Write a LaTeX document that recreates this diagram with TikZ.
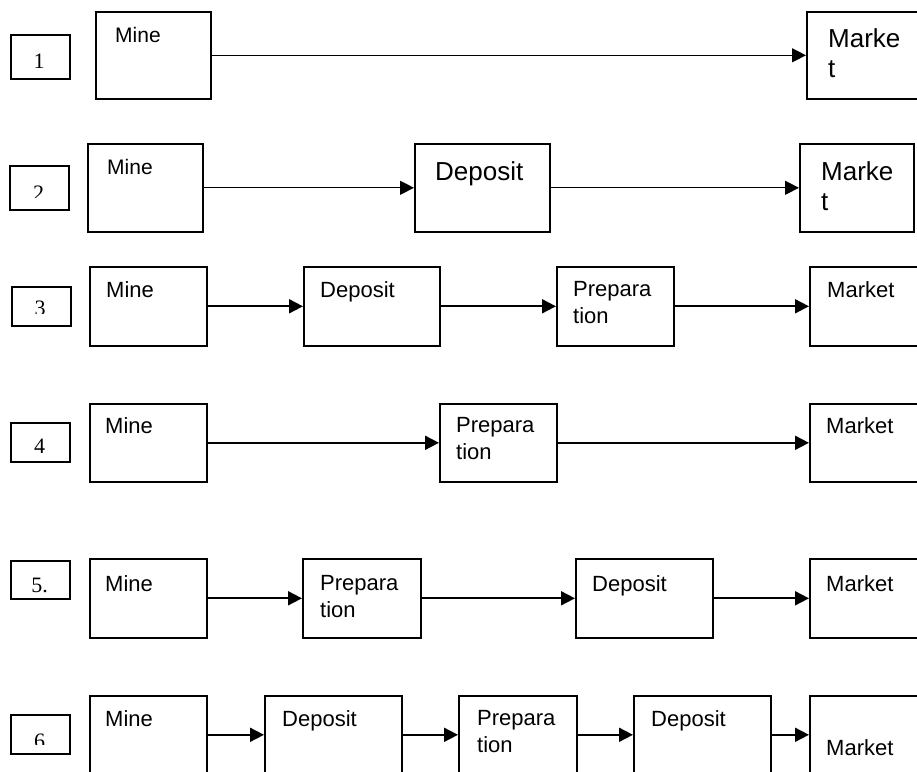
\documentclass[tikz,border=0pt]{standalone}
\usepackage{fontspec}
\setmainfont{Liberation Sans}
\newfontfamily\numfont{Liberation Serif}
\usetikzlibrary{arrows.meta}
\tikzset{
	box/.style={draw, line width=1.6pt, anchor=north west, inner sep=0pt},
	numbox/.style={box, minimum width=59pt},
	word/.style={anchor=north west, inner sep=0pt, align=left, font=\fontsize{22}{27}\selectfont},
	bigword/.style={word, font=\fontsize{26}{30}\selectfont},
	num/.style={anchor=base, inner sep=0pt, font=\numfont\fontsize{22}{22}\selectfont},
	flow/.style={line width=1.8pt, -{Triangle[length=14pt,width=14pt]}},
	thinflow/.style={flow, line width=1.3pt},
}
\begin{document}
\begin{tikzpicture}[x=1pt,y=-1pt]
	\useasboundingbox (0,0) rectangle (917,771);
	% 1
	\node[numbox, minimum height=44pt] (n1) at (10,34) {};
	\node[num] (t1) at (39,68) {1};
	\node[box, minimum width=115pt, minimum height=87pt] (mine1) at (95,11) {};
	\node[word, font=\fontsize{21}{25}\selectfont] (mine1t) at (115,27) {Mine};
	\node[box, minimum width=120pt, minimum height=87pt] (mkt1) at (806,11) {};
	\node[bigword] (mkt1t) at (828,28) {Marke\\t};
	\draw[thinflow] (mine1) -- (mkt1);
	% 2
	\node[numbox, minimum height=44pt] (n2) at (9,165) {};
	\begin{scope}
		\clip (9,165) rectangle (68,197);
		\node[num] (t2) at (38.5,200) {2};
	\end{scope}
	\node[box, minimum width=115pt, minimum height=88pt] (mine2) at (87,143) {};
	\node[word, font=\fontsize{21}{25}\selectfont] (mine2t) at (107,159) {Mine};
	\node[box, minimum width=135pt, minimum height=88pt] (dep2) at (414,143) {};
	\node[bigword] (dep2t) at (435,161) {Deposit};
	\node[box, minimum width=114pt, minimum height=88pt] (mkt2) at (799,143) {};
	\node[bigword] (mkt2t) at (821,161) {Marke\\t};
	\draw[thinflow] (mine2) -- (dep2);
	\draw[thinflow] (dep2) -- (mkt2);
	% 3
	\node[numbox, minimum height=39pt] (n3) at (11,286) {};
	\begin{scope}
		\clip (11,286) rectangle (69,313);
		\node[num] (t3) at (40,315) {3};
	\end{scope}
	\node[box, minimum width=117pt, minimum height=79pt] (mine3) at (89,266) {};
	\node[word] (mine3t) at (106,281) {Mine};
	\node[box, minimum width=136pt, minimum height=79pt] (dep3) at (303,266) {};
	\node[word] (dep3t) at (320,281) {Deposit};
	\node[box, minimum width=117pt, minimum height=79pt] (prep3) at (556,266) {};
	\node[word] (prep3t) at (573,281) {Prepara\\tion};
	\node[box, minimum width=120pt, minimum height=79pt] (mkt3) at (809,266) {};
	\node[word] (mkt3t) at (827,281) {Market};
	\draw[flow] (mine3) -- (dep3);
	\draw[flow] (dep3) -- (prep3);
	\draw[flow] (prep3) -- (mkt3);
	% 4
	\node[numbox, minimum height=39pt] (n4) at (10,422) {};
	\node[num] (t4) at (39.5,453) {4};
	\node[box, minimum width=117pt, minimum height=78pt] (mine4) at (89,403) {};
	\node[word] (mine4t) at (105,417) {Mine};
	\node[box, minimum width=117pt, minimum height=78pt] (prep4) at (439,403) {};
	\node[word] (prep4t) at (456,417) {Prepara\\tion};
	\node[box, minimum width=120pt, minimum height=78pt] (mkt4) at (809,403) {};
	\node[word] (mkt4t) at (826,417) {Market};
	\draw[flow] (mine4) -- (prep4);
	\draw[flow] (prep4) -- (mkt4);
	% 5
	\node[numbox, minimum height=38pt] (n5) at (10,560) {};
	\node[num] (t5) at (39.5,592) {5.};
	\node[box, minimum width=117pt, minimum height=79pt] (mine5) at (89,558) {};
	\node[word] (mine5t) at (105,575) {Mine};
	\node[box, minimum width=118pt, minimum height=79pt] (prep5) at (302,558) {};
	\node[word] (prep5t) at (320,575) {Prepara\\tion};
	\node[box, minimum width=137pt, minimum height=79pt] (dep5) at (575,558) {};
	\node[word] (dep5t) at (592,575) {Deposit};
	\node[box, minimum width=120pt, minimum height=79pt] (mkt5) at (809,558) {};
	\node[word] (mkt5t) at (826,575) {Market};
	\draw[flow] (mine5) -- (prep5);
	\draw[flow] (prep5) -- (dep5);
	\draw[flow] (dep5) -- (mkt5);
	% 6
	\node[numbox, minimum height=39pt] (n6) at (10,714) {};
	\begin{scope}
		\clip (10,714) rectangle (69,744);
		\node[num] (t6) at (39.5,748) {6};
	\end{scope}
	\node[box, minimum width=117pt, minimum height=78pt] (mine6) at (89,695) {};
	\node[word] (mine6t) at (105,710) {Mine};
	\node[box, minimum width=137pt, minimum height=78pt] (dep6) at (264,695) {};
	\node[word] (dep6t) at (282,710) {Deposit};
	\node[box, minimum width=118pt, minimum height=78pt] (prep6) at (458,695) {};
	\node[word] (prep6t) at (477,710) {Prepara\\tion};
	\node[box, minimum width=137pt, minimum height=78pt] (depb6) at (633,695) {};
	\node[word] (depb6t) at (651,710) {Deposit};
	\node[box, minimum width=120pt, minimum height=78pt] (mkt6) at (809,695) {};
	\node[word] (mkt6t) at (826,739) {Market};
	\draw[flow] (mine6) -- (dep6);
	\draw[flow] (dep6) -- (prep6);
	\draw[flow] (prep6) -- (depb6);
	\draw[flow] (depb6) -- (mkt6);
\end{tikzpicture}
\end{document}
